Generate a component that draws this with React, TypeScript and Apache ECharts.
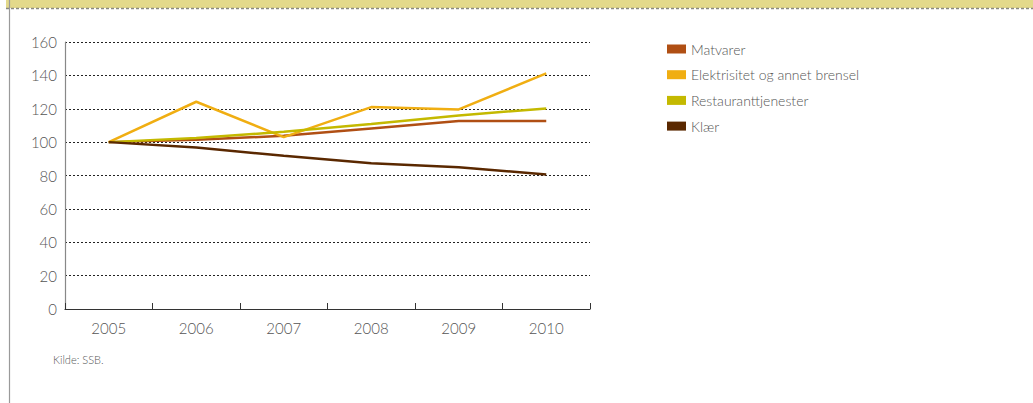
import React, { useEffect, useRef } from "react";
import * as echarts from "echarts";

const years = ["2005", "2006", "2007", "2008", "2009", "2010"];
const matvarer = [100, 101.4, 103.8, 108.2, 112.6, 112.6];
const elektrisitet = [100, 124.2, 103, 121, 119.6, 141.2];
const restaurant = [100, 102.4, 106.2, 110.8, 116, 120.2];
const klaer = [100, 96.8, 91.8, 87.4, 85, 80.6];
const seriesNames = ["Matvarer", "Elektrisitet og annet brensel", "Restauranttjenester", "Klær"];
const seriesColors = ["#b04f14", "#f0ae12", "#c4b900", "#5a2800"];

const FONT = "Lato, 'Open Sans', sans-serif";

export default function App() {
  const ref = useRef<HTMLDivElement>(null);
  useEffect(() => {
    if (!ref.current) return;
    const chart = echarts.init(ref.current, null, { renderer: "svg" });
    const data = [matvarer, elektrisitet, restaurant, klaer];
    chart.setOption({
      animation: false,
      backgroundColor: "#ffffff",
      textStyle: { fontFamily: FONT },
      grid: { left: 65, right: 443, top: 42, bottom: 94 },
      legend: {
        orient: "vertical",
        left: 667,
        top: 42,
        padding: 0,
        icon: "rect",
        itemWidth: 19,
        itemHeight: 9,
        itemGap: 11.7,
        textStyle: { color: "#555", fontSize: 14, fontFamily: FONT, fontWeight: 300 },
        data: seriesNames,
      },
      xAxis: {
        type: "category",
        data: years,
        boundaryGap: true,
        axisLine: { lineStyle: { color: "#333", width: 1.2 } },
        axisTick: { show: true, inside: true, length: 6, lineStyle: { color: "#333" } },
        axisLabel: { color: "#555", fontSize: 15, margin: 11, fontFamily: FONT, fontWeight: 300 },
      },
      yAxis: {
        type: "value",
        min: 0,
        max: 160,
        interval: 20,
        axisLine: { show: true, lineStyle: { color: "#888", width: 1.2 } },
        axisTick: { show: false },
        axisLabel: { color: "#555", fontSize: 15, margin: 8, fontFamily: FONT, fontWeight: 300 },
        splitLine: { show: true, lineStyle: { color: "#222", type: [2, 2], width: 1 } },
      },
      series: seriesNames.map((name, i) => ({
        name,
        type: "line",
        data: data[i],
        showSymbol: false,
        symbol: "none",
        lineStyle: { color: seriesColors[i], width: 2.5 },
        itemStyle: { color: seriesColors[i] },
        z: i === 3 ? 3 : 2,
      })),
      graphic: [
        { type: "rect", shape: { x: 6, y: 0, width: 1033, height: 8 }, style: { fill: "#e3d98a" }, silent: true },
        { type: "line", shape: { x1: 6, y1: 8.5, x2: 1033, y2: 8.5 }, style: { stroke: "#8a8a80", lineWidth: 1.5, lineDash: [3, 2] }, silent: true },
        { type: "line", shape: { x1: 9.5, y1: 0, x2: 9.5, y2: 403 }, style: { stroke: "#9a9a9a", lineWidth: 1.2 }, silent: true },
        { type: "text", left: 53, top: 354, style: { text: "Kilde: SSB.", fill: "#555", fontSize: 11, fontFamily: FONT, fontWeight: 300 } },
      ],
    });
    return () => chart.dispose();
  }, []);
  return <div ref={ref} style={{ position: "fixed", left: 0, top: 0, width: 1033, height: 403 }} />;
}
